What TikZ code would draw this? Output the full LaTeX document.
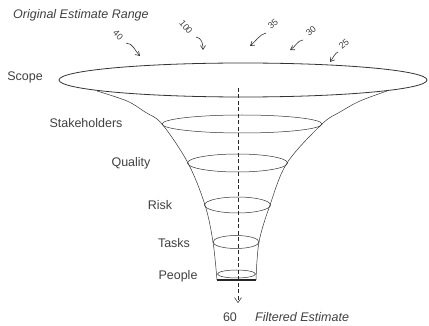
\documentclass[tikz,border=0pt]{standalone}
\usepackage{fontspec}
\setmainfont{Liberation Sans}
\usetikzlibrary{arrows.meta,shapes.geometric}
\begin{document}
\begin{tikzpicture}[x=1pt,y=-1pt,
  lbl/.style={font=\fontsize{12.5}{14}\selectfont, text=black!75, inner sep=0pt},
  ital/.style={font=\fontsize{12.5}{14}\selectfont\itshape, text=black!75, inner sep=0pt},
  num/.style={font=\fontsize{9}{10}\selectfont, text=black!75, inner sep=0pt},
  ring/.style={draw=black!80, line width=0.5pt, ellipse, inner sep=0pt, outer sep=0pt},
  funnel/.style={draw=black!80, line width=0.5pt},
  estarrow/.style={draw=black!80, line width=0.6pt, -{Straight Barb[length=4pt,width=5pt]}},
]
\useasboundingbox (0,0) rectangle (429,326);

% rings
\node[ring, line width=0.8pt, minimum width=368pt, minimum height=34pt] (scope) at (243,80) {};
\node[ring, minimum width=160pt, minimum height=18pt] (stake) at (242,124) {};
\node[ring, minimum width=100pt, minimum height=18pt] (qual) at (237.5,163) {};
\node[ring, minimum width=66pt, minimum height=16pt] (risk) at (237.5,205) {};
\node[ring, minimum width=46pt, minimum height=13pt] (tasks) at (236,242) {};
\node[ring, minimum width=38pt, minimum height=8pt] (people) at (236.5,274) {};

% funnel sides
\draw[funnel] plot[smooth, tension=0.55] coordinates
  {(97,91) (127,101) (145,112) (162,124) (188,163) (205,205) (213,242) (217,280)};
\draw[funnel] plot[smooth, tension=0.55] coordinates
  {(387,91) (360,101) (340,112) (322,124) (287,163) (270,205) (259,242) (256,280)};
\coordinate (bl) at (217,280);
\coordinate (br) at (256,280);
\draw[draw=black!85, line width=1.1pt] (bl) -- (br);

% axis
\coordinate (axtop) at (238,88);
\coordinate (axbot) at (238,303);
\draw[draw=black!85, line width=0.5pt, dash pattern=on 4pt off 2.5pt,
  -{Straight Barb[length=5pt,width=7pt]}] (axtop) -- (axbot);

% labels
\node[ital, anchor=west] (orig) at (13,15) {Original Estimate Range};
\node[lbl] (lscope) at (25,77) {Scope};
\node[lbl] (lstake) at (86,123) {Stakeholders};
\node[lbl] (lqual) at (131,163) {Quality};
\node[lbl] (lrisk) at (160,205) {Risk};
\node[lbl] (ltasks) at (174,243) {Tasks};
\node[lbl] (lpeople) at (178,276) {People};
\node[lbl] (final) at (230,317) {60};
\node[ital, anchor=west] (filt) at (255,317) {Filtered Estimate};

% estimate numbers
\node[num, rotate=-45] (n1) at (118,35) {40};
\node[num, rotate=-50] (n2) at (186,27) {100};
\node[num, rotate=40] (n3) at (273,24) {35};
\node[num, rotate=40] (n4) at (311,31) {30};
\node[num, rotate=40] (n5) at (344,44) {25};

\coordinate (s1) at (126,43); \coordinate (t1) at (140,56);
\coordinate (s2) at (196,37); \coordinate (t2) at (203,50);
\coordinate (s3) at (266,33); \coordinate (t3) at (250,46);
\coordinate (s4) at (303,40); \coordinate (t4) at (290,50);
\coordinate (s5) at (338,52); \coordinate (t5) at (330,62);
\draw[estarrow] (s1) .. controls (133,43) and (135,51) .. (t1);
\draw[estarrow] (s2) .. controls (202,38) and (203,44) .. (t2);
\draw[estarrow] (s3) .. controls (260,34) and (255,42) .. (t3);
\draw[estarrow] (s4) .. controls (298,40) and (295,47) .. (t4);
\draw[estarrow] (s5) .. controls (335,53) and (333,58) .. (t5);
\end{tikzpicture}
\end{document}
